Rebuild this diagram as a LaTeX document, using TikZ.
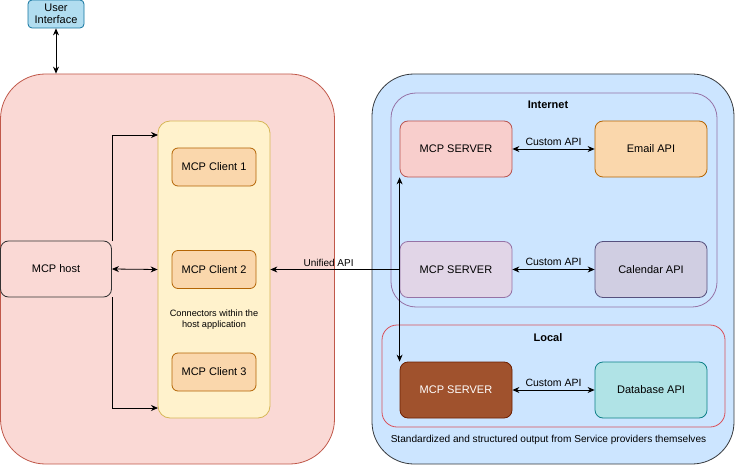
\documentclass[tikz,border=0pt]{standalone}
\usepackage{fontspec}
\setmainfont{Liberation Sans}
\usetikzlibrary{arrows.meta}
\definecolor{hostfill}{HTML}{FAD9D5}
\definecolor{hoststroke}{HTML}{C0584A}
\definecolor{yelfill}{HTML}{FFF2CC}
\definecolor{yelstroke}{HTML}{D6B656}
\definecolor{clfill}{HTML}{FAD7AC}
\definecolor{clstroke}{HTML}{B46504}
\definecolor{uifill}{HTML}{B1DDF0}
\definecolor{uistroke}{HTML}{10739E}
\definecolor{rbfill}{HTML}{CCE5FF}
\definecolor{rbstroke}{HTML}{36393D}
\definecolor{inetstroke}{HTML}{9673A6}
\definecolor{localstroke}{HTML}{D9505A}
\definecolor{saFill}{HTML}{F8CECC}
\definecolor{saStroke}{HTML}{B85450}
\definecolor{sbFill}{HTML}{E1D5E7}
\definecolor{sbStroke}{HTML}{9673A6}
\definecolor{calFill}{HTML}{D0CEE2}
\definecolor{calStroke}{HTML}{56517E}
\definecolor{scFill}{HTML}{A0522D}
\definecolor{scStroke}{HTML}{6D1F00}
\definecolor{dbFill}{HTML}{B0E3E6}
\definecolor{dbStroke}{HTML}{0E8088}
\definecolor{darkline}{HTML}{333333}
\tikzset{
  base/.style={draw, inner sep=0pt, align=center, line width=0.8pt},
  srvbox/.style={base, rounded corners=8pt, minimum width=112pt, minimum height=56pt, font=\fontsize{11}{13}\selectfont},
  clbox/.style={base, rounded corners=6pt, minimum width=84pt, minimum height=38pt, fill=clfill, draw=clstroke, font=\fontsize{11}{13}\selectfont},
  lbl/.style={inner sep=0pt, font=\fontsize{10}{12}\selectfont},
  apilbl/.style={inner sep=0pt, font=\fontsize{10.5}{12}\selectfont},
  conn/.style={draw=black, line width=0.8pt, -{Stealth[length=7pt,width=6pt]}},
  dconn/.style={draw=black, line width=0.8pt, {Stealth[length=7pt,width=6pt]}-{Stealth[length=7pt,width=6pt]}},
}
\begin{document}
\begin{tikzpicture}[x=1pt,y=-1pt]
\useasboundingbox (0,0) rectangle (735,465);
% left host region
\node[base, rounded corners=45pt, fill=hostfill, draw=hoststroke, minimum width=334pt, minimum height=390pt] (hostbg) at (167.5,269) {};
\node[base, rounded corners=12pt, fill=yelfill, draw=yelstroke, minimum width=112pt, minimum height=297pt] (yellow) at (214,269.5) {};
\node[clbox] (c1) at (214,167) {MCP Client 1};
\node[clbox] (c2) at (214,269.5) {MCP Client 2};
\node[clbox] (c3) at (214,372) {MCP Client 3};
\node[lbl, font=\fontsize{9.2}{11.5}\selectfont, align=center] (conntxt) at (214,319.5) {Connectors within the\\host application};
\node[srvbox, draw=darkline, minimum width=111pt] (host) at (56,269) {MCP host};
\node[base, rounded corners=4pt, fill=uifill, draw=uistroke, minimum width=56pt, minimum height=28pt, font=\fontsize{11}{12.5}\selectfont] (ui) at (56,14) {User\\Interface};
% right region
\node[base, rounded corners=42pt, fill=rbfill, draw=rbstroke, minimum width=362pt, minimum height=390pt] (rightbg) at (553,269) {};
\node[base, rounded corners=25pt, draw=inetstroke, minimum width=326pt, minimum height=214pt] (inet) at (554,200) {};
\node[lbl, font=\bfseries\fontsize{11}{13}\selectfont] (inettxt) at (548,105) {Internet};
\node[base, rounded corners=15pt, draw=localstroke, minimum width=343pt, minimum height=102pt] (local) at (553.5,376) {};
\node[lbl, font=\bfseries\fontsize{11}{13}\selectfont] (localtxt) at (548,338) {Local};
\node[srvbox, fill=saFill, draw=saStroke] (s1) at (456,149) {MCP SERVER};
\node[srvbox, fill=clfill, draw=clstroke] (email) at (651,149) {Email API};
\node[srvbox, fill=sbFill, draw=sbStroke] (s2) at (456,269.5) {MCP SERVER};
\node[srvbox, fill=calFill, draw=calStroke] (cal) at (651,269.5) {Calendar API};
\node[srvbox, fill=scFill, draw=scStroke, text=white] (s3) at (456,390) {MCP SERVER};
\node[srvbox, fill=dbFill, draw=dbStroke] (db) at (651,390) {Database API};
\node[lbl, font=\fontsize{10.1}{12}\selectfont] (bottomtxt) at (548.5,440) {Standardized and structured output from Service providers themselves};
% connectors
\coordinate (ytop) at (158,135);
\coordinate (ybot) at (158,408);
\draw[dconn] (ui.south) -- (ui.south |- hostbg.north);
\draw[conn] (host.north east) |- (ytop);
\draw[conn] (host.south east) |- (ybot);
\draw[dconn] (host.east) -- (yellow.west);
\draw[conn] (s2.west) -- node[lbl, above=3pt, pos=0.55] {Unified API} (yellow.east);
\draw[dconn] (s1.south west) -- (s3.north west);
\draw[dconn] (s1.east) -- node[apilbl, above=3pt] {Custom API} (email.west);
\draw[dconn] (s2.east) -- node[apilbl, above=3pt] {Custom API} (cal.west);
\draw[dconn] (s3.east) -- node[apilbl, above=3pt] {Custom API} (db.west);
\end{tikzpicture}
\end{document}
